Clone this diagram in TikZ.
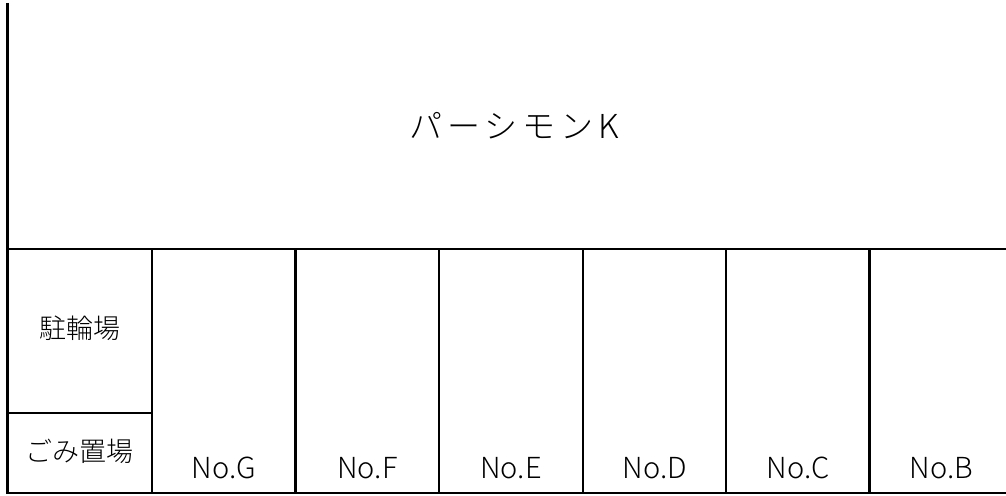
\documentclass[tikz,border=0pt]{standalone}
\usepackage{fontspec}
\setmainfont{Noto Sans CJK JP}[UprightFont = * Light]
\usetikzlibrary{positioning}
\tikzset{wall/.style = {line width = 2.6pt}}
\tikzset{lbl/.style = {font = \fontsize{27}{30}\selectfont, inner sep = 0, anchor = base}}
\tikzset{nolbl/.style = {lbl, font = \fontsize{29}{31}\selectfont}}

\begin{document}
\begin{tikzpicture}[x = 1pt, y = -1pt]
      \useasboundingbox (0, 0) rectangle (1006, 495);

      \draw [wall] (7.5, 3) -- (7.5, 493) -- (1006, 493);
      \draw [wall] (7.5, 249) -- (1006, 249);
      \draw [wall] (7.5, 413) -- (152, 413);

      \foreach \x/\n in {152/G, 295.5/F, 439/E, 583/D, 726/C, 869.5/B} {
        \draw [wall] (\x, 249) -- (\x, 493);
        \node [nolbl] (no\n) at (\x + 72, 478) {No.\n};
      }

      \node [lbl, font = \fontsize{33}{35}\selectfont\addfontfeature{LetterSpace = 15}] (title) at (514, 138) {パーシモンK};
      \node [lbl] (bike) at (79.5, 338) {駐輪場};
      \node [lbl] (trash) at (79.5, 461) {ごみ置場};
    \end{tikzpicture}
\end{document}
